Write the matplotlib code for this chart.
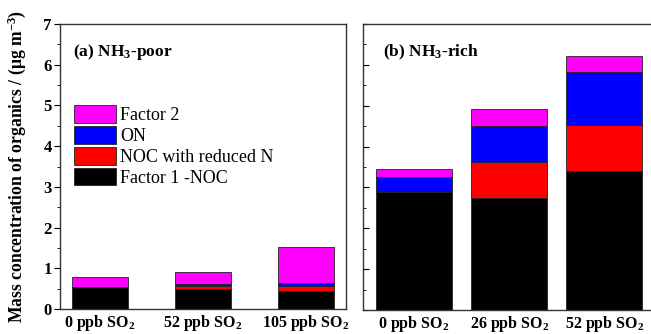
import matplotlib
matplotlib.use('Agg')
import matplotlib.pyplot as plt
from matplotlib.ticker import MultipleLocator
import numpy as np

plt.rcParams['font.family'] = ['Liberation Serif', 'DejaVu Serif']
plt.rcParams['mathtext.default'] = 'regular'

# ---------------------------------------------------------------------------
# Data (mass concentration, ug m-3)
# ---------------------------------------------------------------------------
poor_labels = ['0 ppb SO$_2$', '52 ppb SO$_2$', '105 ppb SO$_2$']
poor_factor1 = [0.53, 0.49, 0.43]
poor_noc_red = [0.00, 0.07, 0.14]
poor_on = [0.00, 0.05, 0.08]
poor_factor2 = [0.26, 0.29, 0.87]

rich_labels = ['0 ppb SO$_2$', '26 ppb SO$_2$', '52 ppb SO$_2$']
rich_factor1 = [2.88, 2.73, 3.39]
rich_noc_red = [0.00, 0.90, 1.15]
rich_on = [0.38, 0.87, 1.28]
rich_factor2 = [0.18, 0.41, 0.39]

series_names = ['Factor 1 -NOC', 'NOC with reduced N', 'ON', 'Factor 2']
colors = ['#000000', '#ff0000', '#0000ff', '#ff00ff']


def _stack(ax, labels, stacks, width):
    x = np.arange(len(labels))
    bottom = np.zeros(len(labels))
    handles = []
    for vals, name, c in zip(stacks, series_names, colors):
        h = ax.bar(x, vals, width, bottom=bottom, color=c, edgecolor='#222222',
                   linewidth=0.6, label=name)
        handles.append(h)
        bottom += np.array(vals)
    ax.set_xticks(x)
    ax.set_xticklabels(labels, fontsize=11.5, fontweight='bold')
    ax.tick_params(axis='x', length=0, pad=3)
    ax.set_ylim(0, 7)
    ax.yaxis.set_major_locator(MultipleLocator(1))
    ax.yaxis.set_minor_locator(MultipleLocator(0.5))
    for s in ax.spines.values():
        s.set_color('#333333')
        s.set_linewidth(1.0)
    return handles


fig = plt.figure(figsize=(6.51, 3.34), dpi=100)
W, H = 651, 334

ax1 = fig.add_axes([60 / W, 25 / H, 286 / W, 285 / H])
handles = _stack(ax1, poor_labels,
                 [poor_factor1, poor_noc_red, poor_on, poor_factor2], 0.54)
ax1.set_xlim(-0.39, 2.39)
ax1.tick_params(axis='y', which='major', direction='out', length=4,
                labelsize=12, pad=2)
ax1.tick_params(axis='y', which='minor', direction='out', length=2)
for lab in ax1.get_yticklabels():
    lab.set_fontweight('bold')
ax1.set_ylabel('Mass concentration of organics / (μg m$^{-3}$)',
               fontsize=12.7, fontweight='bold')
ax1.yaxis.set_label_coords(-0.113, 0.5)
ax1.text(0.045, 0.9, '(a) NH$_3$-poor', transform=ax1.transAxes,
         fontsize=12.5, fontweight='bold', va='center', ha='left')
ax1.legend(handles[::-1], series_names[::-1], loc='upper left',
           bbox_to_anchor=(0.05, 0.715), frameon=False, fontsize=13,
           handlelength=2.3, handleheight=1.1, handletextpad=0.25,
           labelspacing=0.12, borderaxespad=0, borderpad=0)

ax2 = fig.add_axes([363 / W, 24 / H, 288 / W, 286 / H])
_stack(ax2, rich_labels,
       [rich_factor1, rich_noc_red, rich_on, rich_factor2], 0.8)
ax2.set_xlim(-0.537, 2.49)
ax2.tick_params(axis='y', which='major', direction='in', length=4,
                labelleft=False)
ax2.tick_params(axis='y', which='minor', direction='in', length=2)
ax2.spines['right'].set_visible(False)
ax2.text(0.07, 0.9, '(b) NH$_3$-rich', transform=ax2.transAxes,
         fontsize=12.5, fontweight='bold', va='center', ha='left')

fig.savefig('out.png', dpi=100)
